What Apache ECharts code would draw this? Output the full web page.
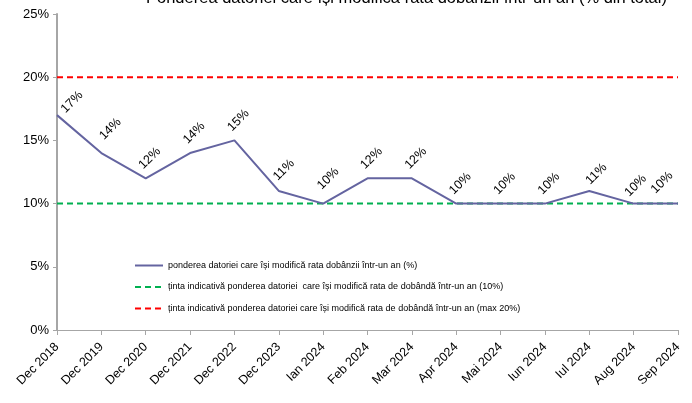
<!DOCTYPE html>
<html><head><meta charset="utf-8">
<script src="https://cdn.jsdelivr.net/npm/echarts@6/dist/echarts.min.js"></script>
<style>html,body{margin:0;padding:0;background:#fff}#c{width:692px;height:403px}</style>
</head><body><div id="c"></div>
<script>
const categories = ['Dec 2018','Dec 2019','Dec 2020','Dec 2021','Dec 2022','Dec 2023','Ian 2024','Feb 2024','Mar 2024','Apr 2024','Mai 2024','Iun 2024','Iul 2024','Aug 2024','Sep 2024'];
const ponderea = [17,14,12,14,15,11,10,12,12,10,10,10,11,10,10];
const tinta10 = [10,10,10,10,10,10,10,10,10,10,10,10,10,10,10];
const tinta20 = [20,20,20,20,20,20,20,20,20,20,20,20,20,20,20];
const yTicks = [0,5,10,15,20,25];
const titleText = 'Ponderea datoriei care își modifică rata dobânzii într-un an (% din total)';
const names = ['ponderea datoriei care își modifică rata dobânzii într-un an (%)',
  'ținta indicativă ponderea datoriei  care își modifică rata de dobândă într-un an (10%)',
  'ținta indicativă ponderea datoriei care își modifică rata de dobândă într-un an (max 20%)'];

// label placement (relative to point), as in the reference
const labelPos = {0:[15,-13], 1:[9,-24], 5:[5,-21], 6:[5,-25], 12:[7,-17], 13:[2,-18], 14:[-16,-21]};
const defaultPos = [4,-20];

const chart = echarts.init(document.getElementById('c'));
const F = 'Liberation Sans, Arial, sans-serif';
const mainData = ponderea.map((v,i)=>{
  const p = labelPos[i] || defaultPos;
  return {value:v, label:{position:[p[0]+0.5,p[1]+0.5]}};
});
chart.setOption({
  animation:false,
  title:{text:titleText,left:141,top:-15,textStyle:{fontFamily:F,fontSize:16.5,fontWeight:'normal',color:'#000'}},
  grid:{left:57,right:14,top:14,bottom:73,containLabel:false},
  legend:{orient:'vertical',left:129,top:256,itemGap:12.5,itemWidth:28,itemHeight:6,
    itemStyle:{opacity:0},
    textStyle:{fontFamily:F,fontSize:9,color:'#000'},data:names},
  xAxis:{type:'category',data:categories,boundaryGap:false,
    axisLine:{lineStyle:{color:'#a6a6a6',width:1}},
    axisTick:{show:true,alignWithLabel:true,length:5,lineStyle:{color:'#a6a6a6'}},
    axisLabel:{rotate:45,interval:0,fontFamily:F,fontSize:12.5,color:'#000',margin:15},
    splitLine:{show:false}},
  yAxis:{type:'value',min:yTicks[0],max:yTicks[yTicks.length-1],interval:5,
    axisLine:{show:true,lineStyle:{color:'#a6a6a6',width:2}},
    axisTick:{show:true,length:4,lineStyle:{color:'#a6a6a6'}},
    axisLabel:{formatter:'{value}%',fontFamily:F,fontSize:13,color:'#000',margin:8},
    splitLine:{show:false}},
  series:[
    {name:names[1],type:'line',data:tinta10,symbol:'none',lineStyle:{color:'#00b050',width:2,type:[6,4]},itemStyle:{color:'#00b050'},z:2},
    {name:names[2],type:'line',data:tinta20,symbol:'none',lineStyle:{color:'#ff0000',width:2,type:[6,4]},itemStyle:{color:'#ff0000'},z:2},
    {name:names[0],type:'line',data:mainData,symbol:'circle',symbolSize:1,showSymbol:true,showAllSymbol:true,
      lineStyle:{color:'#6464a0',width:2},itemStyle:{color:'rgba(0,0,0,0)',borderWidth:0},z:3,
      labelLayout:{hideOverlap:false},
      label:{show:true,rotate:45,align:'center',verticalAlign:'middle',formatter:'{c}%',fontFamily:F,fontSize:12.5,color:'#000'}}
  ]
});
</script></body></html>
